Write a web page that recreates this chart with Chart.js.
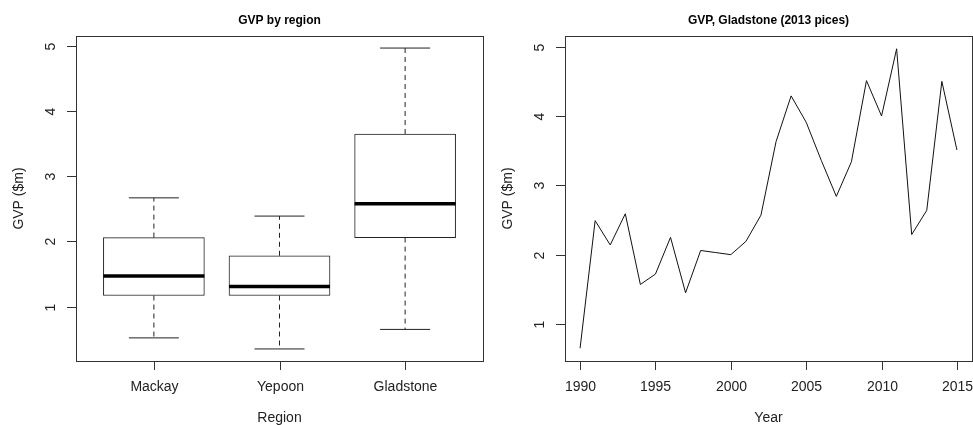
<!DOCTYPE html>
<html>
<head>
<meta charset="utf-8">
<script src="https://cdn.jsdelivr.net/npm/chart.js@4.4.1/dist/chart.umd.min.js"></script>
<style>
  html, body { margin: 0; padding: 0; background: #fff; }
  #wrap { position: relative; width: 973px; height: 425px; overflow: hidden; }
  canvas { position: absolute; top: 0; }
  #boxCanvas { left: 0; }
  #lineCanvas { left: 486px; }
</style>
</head>
<body>
<div id="wrap">
  <canvas id="boxCanvas" width="486" height="425"></canvas>
  <canvas id="lineCanvas" width="487" height="425"></canvas>
</div>
<script>
// Box plot summary per region ($m)
const regions = ['Mackay', 'Yepoon', 'Gladstone'];
const whiskerLow = [0.52, 0.35, 0.65];
const boxLow = [1.17, 1.17, 2.06];
const medians = [1.47, 1.31, 2.58];
const boxHigh = [2.06, 1.78, 3.65];
const whiskerHigh = [2.67, 2.39, 4.97];

// Gladstone GVP by year (2013 prices, $m)
const years = [1990, 1991, 1992, 1993, 1994, 1995, 1996, 1997, 1998, 1999, 2000, 2001, 2002,
  2003, 2004, 2005, 2006, 2007, 2008, 2009, 2010, 2011, 2012, 2013, 2014, 2015];
const gvpGladstone = [0.65, 2.49, 2.14, 2.59, 1.57, 1.72, 2.25, 1.45, 2.06, 2.03, 2.0, 2.19, 2.57,
  3.63, 4.29, 3.91, 3.36, 2.84, 3.34, 4.51, 4.0, 4.97, 2.29, 2.64, 4.5, 3.51];

const gvpTicks = [1, 2, 3, 4, 5];
const yearTicks = [1990, 1995, 2000, 2005, 2010, 2015];

const FONT = '"Liberation Sans", Arial, sans-serif';
const INK = '#222';

// R-style frame: box, outward ticks, rotated y labels, titles
const rFrame = {
  id: 'rFrame',
  afterDraw(chart, args, opts) {
    const ctx = chart.ctx;
    const a = chart.chartArea;
    const xs = chart.scales.x, ys = chart.scales.y;
    ctx.save();
    ctx.strokeStyle = '#333';
    ctx.lineWidth = 1;
    ctx.strokeRect(Math.round(a.left) + 0.5, Math.round(a.top) + 0.5,
      Math.round(a.right - a.left), Math.round(a.bottom - a.top));

    ctx.fillStyle = INK;
    ctx.font = '14px ' + FONT;
    ctx.textAlign = 'center';
    ctx.textBaseline = 'middle';

    // y axis
    gvpTicks.forEach(v => {
      const py = Math.round(ys.getPixelForValue(v)) + 0.5;
      ctx.beginPath();
      ctx.moveTo(a.left, py);
      ctx.lineTo(a.left - 9, py);
      ctx.stroke();
      ctx.save();
      ctx.translate(a.left - 25, py);
      ctx.rotate(-Math.PI / 2);
      ctx.fillText(String(v), 0, 0);
      ctx.restore();
    });

    // x axis
    opts.xTicks.forEach((v, i) => {
      const px = Math.round(xs.getPixelForValue(v)) + 0.5;
      ctx.beginPath();
      ctx.moveTo(px, a.bottom);
      ctx.lineTo(px, a.bottom + 9);
      ctx.stroke();
      ctx.fillText(opts.xLabels[i], px, a.bottom + 26);
    });

    const cx = (a.left + a.right) / 2;
    ctx.fillText(opts.xTitle, cx, 418);
    ctx.save();
    ctx.translate(a.left - 57, (a.top + a.bottom) / 2);
    ctx.rotate(-Math.PI / 2);
    ctx.fillText('GVP ($m)', 0, 0);
    ctx.restore();

    ctx.fillStyle = '#000';
    ctx.font = 'bold 12px ' + FONT;
    ctx.fillText(opts.title, cx, 21);
    ctx.restore();
  }
};

function baseOptions(xMin, xMax, yMin, yMax, padRight, padLeft, frame) {
  return {
    responsive: false,
    animation: false,
    events: [],
    layout: { autoPadding: false, padding: { left: padLeft, right: padRight, top: 36, bottom: 64 } },
    plugins: { legend: { display: false }, tooltip: { enabled: false }, rFrame: frame },
    scales: {
      x: { type: 'linear', display: false, offset: false, min: xMin, max: xMax },
      y: { type: 'linear', display: false, min: yMin, max: yMax }
    }
  };
}

// whisker segments as one dashed line with gaps
let whiskerPts = [];
regions.forEach((r, i) => {
  whiskerPts.push({ x: i + 1, y: boxHigh[i] }, { x: i + 1, y: whiskerHigh[i] }, { x: i + 1, y: null });
  whiskerPts.push({ x: i + 1, y: boxLow[i] }, { x: i + 1, y: whiskerLow[i] }, { x: i + 1, y: null });
});

let capPts = [];
regions.forEach((r, i) => {
  capPts.push({ x: i + 1, y: whiskerLow[i] }, { x: i + 1, y: whiskerHigh[i] });
});

new Chart(document.getElementById('boxCanvas'), {
  type: 'bar',
  data: {
    datasets: [
      {
        type: 'scatter',
        order: 0,
        data: regions.map((r, i) => ({ x: i + 1, y: medians[i] })),
        pointStyle: 'line',
        pointRadius: 50.5,
        borderColor: '#000',
        borderWidth: 3.5
      },
      {
        type: 'scatter',
        order: 1,
        data: capPts,
        pointStyle: 'line',
        pointRadius: 25,
        borderColor: '#222',
        borderWidth: 1
      },
      {
        type: 'line',
        order: 2,
        data: whiskerPts,
        borderColor: '#222',
        borderWidth: 1,
        borderDash: [5, 4],
        pointRadius: 0,
        spanGaps: false
      },
      {
        type: 'bar',
        order: 3,
        data: regions.map((r, i) => ({ x: i + 1, y: [boxLow[i], boxHigh[i]] })),
        backgroundColor: '#fff',
        borderColor: '#222',
        borderWidth: 1,
        borderSkipped: false,
        barThickness: 101
      }
    ]
  },
  options: baseOptions(0.38, 3.62, 0.165, 5.155, 3, 76, {
    title: 'GVP by region', xTitle: 'Region', xTicks: [1, 2, 3], xLabels: regions
  }),
  plugins: [rFrame]
});

new Chart(document.getElementById('lineCanvas'), {
  type: 'line',
  data: {
    datasets: [{
      data: years.map((yr, i) => ({ x: yr, y: gvpGladstone[i] })),
      borderColor: '#111',
      borderWidth: 1,
      pointRadius: 0,
      tension: 0
    }]
  },
  options: baseOptions(1989, 2016, 0.466, 5.154, 1, 79, {
    title: 'GVP, Gladstone (2013 pices)', xTitle: 'Year', xTicks: yearTicks, xLabels: yearTicks.map(String)
  }),
  plugins: [rFrame]
});
</script>
</body>
</html>
